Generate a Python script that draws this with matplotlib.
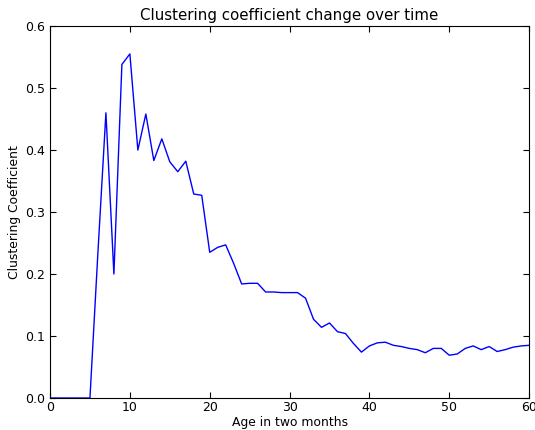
import matplotlib
matplotlib.use("Agg")
import matplotlib.pyplot as plt

# age in two-month steps and clustering coefficient
ages = list(range(0, 61))
coeffs = [0.0, 0.0, 0.0, 0.0, 0.0, 0.0, 0.235, 0.46, 0.2, 0.538,
          0.555, 0.40, 0.458, 0.383, 0.418, 0.381, 0.365, 0.382, 0.329, 0.327,
          0.235, 0.243, 0.247, 0.217, 0.184, 0.185, 0.185, 0.171, 0.171, 0.170,
          0.170, 0.170, 0.161, 0.127, 0.114, 0.121, 0.107, 0.104, 0.088, 0.074,
          0.084, 0.089, 0.090, 0.085, 0.083, 0.080, 0.078, 0.073, 0.080, 0.080,
          0.069, 0.071, 0.080, 0.084, 0.078, 0.083, 0.075, 0.078, 0.082, 0.084,
          0.085]

fig = plt.figure(figsize=(5.35, 4.3), dpi=100)
ax = fig.add_axes([0.0935, 0.0744, 0.8955, 0.8651])

ax.plot(ages, coeffs, color='#0000ff', linewidth=1.0)

ax.set_xlim(0, 60)
ax.set_ylim(0, 0.6)
ax.set_xticks(range(0, 61, 10))
ax.set_yticks([0.0, 0.1, 0.2, 0.3, 0.4, 0.5, 0.6])
ax.tick_params(direction='in', top=True, right=True, length=4, labelsize=9)
ax.tick_params(axis='x', pad=2.5)
ax.tick_params(axis='y', pad=3.5)

ax.set_title('Clustering coefficient change over time', fontsize=10.8, pad=4)
ax.set_xlabel('Age in two months', fontsize=8.9, labelpad=1)
ax.set_ylabel('Clustering Coefficient', fontsize=8.9, labelpad=3)

fig.savefig('out.png', dpi=100)
